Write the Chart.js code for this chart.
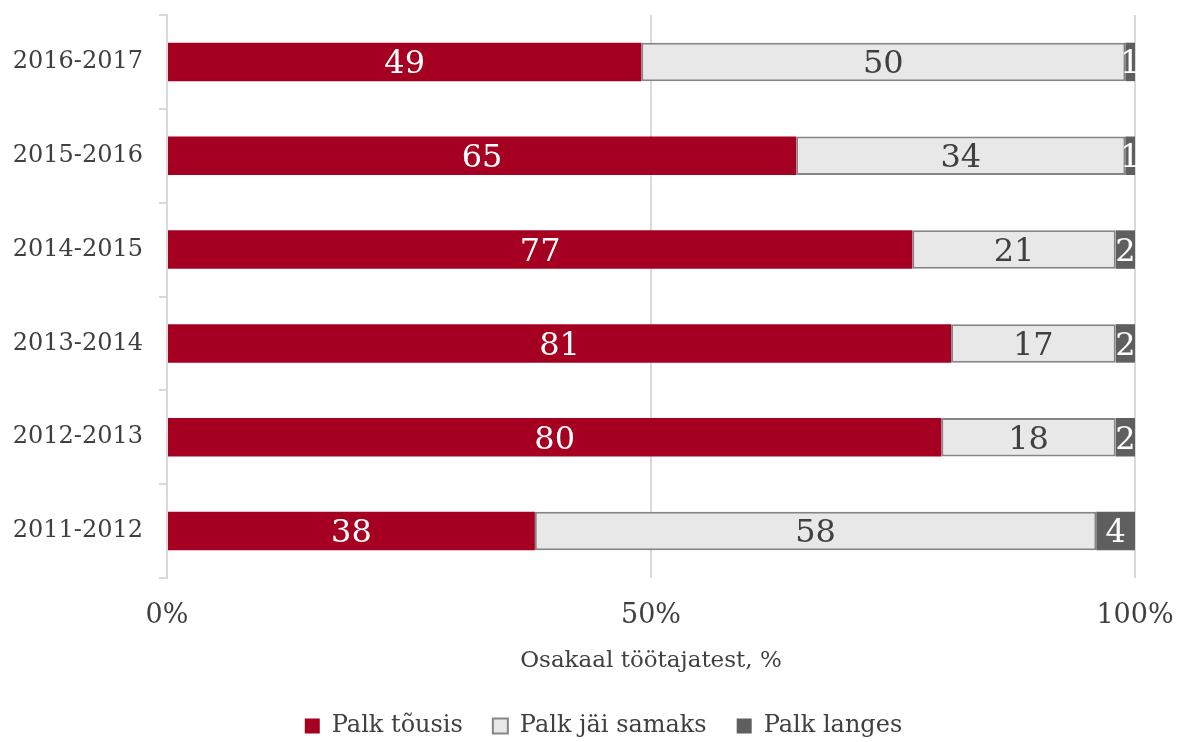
<!DOCTYPE html>
<html>
<head>
<meta charset="utf-8">
<script src="https://cdn.jsdelivr.net/npm/chart.js@4/dist/chart.umd.min.js"></script>
<style>
  html, body { margin: 0; padding: 0; background: #fff; }
  #wrap { width: 1177px; height: 742px; }
</style>
</head>
<body>
<div id="wrap"><canvas id="chart"></canvas></div>
<script>
const periods = ['2016-2017', '2015-2016', '2014-2015', '2013-2014', '2012-2013', '2011-2012'];
const palkTousis = [49, 65, 77, 81, 80, 38];
const palkSamaks = [50, 34, 21, 17, 18, 58];
const palkLanges = [1, 1, 2, 2, 2, 4];
const xTicks = [0, 50, 100];

const SERIF = '"DejaVu Serif", Georgia, serif';
const TEXT = '#404040';

// draws the numbers inside each bar segment
const barLabels = {
  id: 'barLabels',
  afterDatasetsDraw(chart) {
    const ctx = chart.ctx;
    ctx.save();
    ctx.font = '32px ' + SERIF;
    ctx.textAlign = 'center';
    ctx.textBaseline = 'middle';
    chart.data.datasets.forEach((ds, i) => {
      const meta = chart.getDatasetMeta(i);
      meta.data.forEach((bar, j) => {
        const p = bar.getCenterPoint();
        ctx.fillStyle = ds.labelColor;
        ctx.fillText(String(ds.data[j]), p.x, p.y + 3);
      });
    });
    ctx.restore();
  }
};

// legend sits a bit right of centre, like in the original
const legendShift = {
  id: 'legendShift',
  afterLayout(chart) {
    chart.legend.left += 36;
    chart.legend.right += 36;
  }
};

new Chart(document.getElementById('chart'), {
  type: 'bar',
  data: {
    labels: periods,
    datasets: [
      {
        label: 'Palk tõusis',
        data: palkTousis,
        backgroundColor: '#A50021',
        borderColor: '#A50021',
        borderWidth: 0,
        labelColor: '#ffffff'
      },
      {
        label: 'Palk jäi samaks',
        data: palkSamaks,
        backgroundColor: '#E8E8E8',
        borderColor: '#858585',
        borderWidth: 2,
        borderSkipped: false,
        labelColor: TEXT
      },
      {
        label: 'Palk langes',
        data: palkLanges,
        backgroundColor: '#5F5F5F',
        borderColor: '#5F5F5F',
        borderWidth: 0,
        labelColor: '#ffffff'
      }
    ]
  },
  options: {
    indexAxis: 'y',
    responsive: true,
    maintainAspectRatio: false,
    animation: false,
    barPercentage: 0.41,
    categoryPercentage: 1,
    layout: { padding: { top: 15, right: 42, left: 0, bottom: -6 } },
    scales: {
      x: {
        stacked: true,
        min: 0,
        max: 100,
        afterBuildTicks: (scale) => { scale.ticks = xTicks.map(v => ({ value: v })); },
        afterFit: (scale) => {
          scale.height = 106;
          scale.paddingLeft = 0;
          scale.paddingRight = 0;
        },
        ticks: {
          callback: (v) => v + '%',
          color: TEXT,
          font: { family: SERIF, size: 27 },
          padding: 22,
          maxRotation: 0
        },
        grid: { color: '#D9D9D9', lineWidth: 2, drawTicks: false },
        border: { display: false },
        title: {
          display: true,
          text: 'Osakaal töötajatest, %',
          color: TEXT,
          font: { family: SERIF, size: 23 },
          padding: { top: 10, bottom: 9 }
        }
      },
      y: {
        stacked: true,
        afterFit: (scale) => {
          scale.width = 167;
          scale.paddingTop = 0;
          scale.paddingBottom = 0;
        },
        ticks: {
          color: TEXT,
          font: { family: SERIF, size: 24 },
          padding: 16
        },
        grid: {
          offset: true,
          drawOnChartArea: false,
          color: '#D9D9D9',
          lineWidth: 2,
          tickLength: 8
        },
        border: { display: true, color: '#D9D9D9', width: 2 }
      }
    },
    plugins: {
      legend: {
        position: 'bottom',
        labels: {
          color: TEXT,
          font: { family: SERIF, size: 24 },
          boxWidth: 15,
          boxHeight: 15,
          padding: 30
        }
      },
      tooltip: { enabled: false }
    }
  },
  plugins: [barLabels, legendShift]
});
</script>
</body>
</html>
